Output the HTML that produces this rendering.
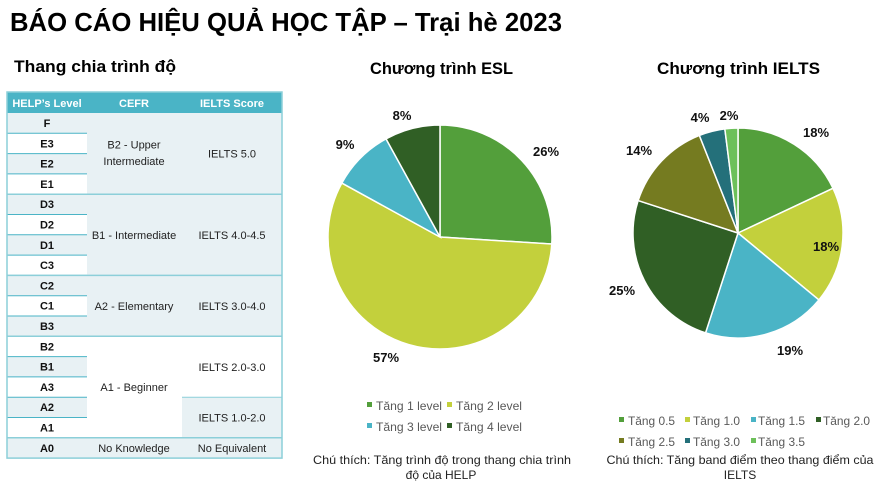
<!DOCTYPE html>
<html><head><meta charset="utf-8"><style>
html,body{margin:0;padding:0;background:#fff;width:891px;height:501px;overflow:hidden}
svg{display:block;font-family:"Liberation Sans","DejaVu Sans",sans-serif}
</style></head><body>
<svg id="s" width="891" height="501" viewBox="0 0 891 501" xmlns="http://www.w3.org/2000/svg">
<text x="10" y="31" font-size="26" font-weight="bold" textLength="552" lengthAdjust="spacingAndGlyphs">BÁO CÁO HIỆU QUẢ HỌC TẬP – Trại hè 2023</text>
<text x="14" y="72" font-size="17" font-weight="bold" textLength="162" lengthAdjust="spacingAndGlyphs">Thang chia trình độ</text>
<text x="370" y="74" font-size="17" font-weight="bold" textLength="143" lengthAdjust="spacingAndGlyphs">Chương trình ESL</text>
<text x="657" y="74" font-size="17" font-weight="bold" textLength="163" lengthAdjust="spacingAndGlyphs">Chương trình IELTS</text>
<g id="tbl"></g>
<g id="pies"></g>
<g font-size="12" fill="#595959">
<rect x="367" y="402" width="5" height="5" fill="#539f3b"/><text x="376" y="410" textLength="66" lengthAdjust="spacingAndGlyphs">Tăng 1 level</text>
<rect x="447" y="402" width="5" height="5" fill="#c3d03c"/><text x="456" y="410" textLength="66" lengthAdjust="spacingAndGlyphs">Tăng 2 level</text>
<rect x="367" y="423" width="5" height="5" fill="#4ab4c6"/><text x="376" y="431" textLength="66" lengthAdjust="spacingAndGlyphs">Tăng 3 level</text>
<rect x="447" y="423" width="5" height="5" fill="#305f25"/><text x="456" y="431" textLength="66" lengthAdjust="spacingAndGlyphs">Tăng 4 level</text>
<rect x="619" y="417" width="5" height="5" fill="#539f3b"/><text x="628" y="425" textLength="47" lengthAdjust="spacingAndGlyphs">Tăng 0.5</text>
<rect x="685" y="417" width="5" height="5" fill="#c3d03c"/><text x="693" y="425" textLength="47" lengthAdjust="spacingAndGlyphs">Tăng 1.0</text>
<rect x="751" y="417" width="5" height="5" fill="#4ab4c6"/><text x="758" y="425" textLength="47" lengthAdjust="spacingAndGlyphs">Tăng 1.5</text>
<rect x="816" y="417" width="5" height="5" fill="#305f25"/><text x="823" y="425" textLength="47" lengthAdjust="spacingAndGlyphs">Tăng 2.0</text>
<rect x="619" y="438" width="5" height="5" fill="#757b20"/><text x="628" y="446" textLength="47" lengthAdjust="spacingAndGlyphs">Tăng 2.5</text>
<rect x="685" y="438" width="5" height="5" fill="#24707a"/><text x="693" y="446" textLength="47" lengthAdjust="spacingAndGlyphs">Tăng 3.0</text>
<rect x="751" y="438" width="5" height="5" fill="#6dc05a"/><text x="758" y="446" textLength="47" lengthAdjust="spacingAndGlyphs">Tăng 3.5</text>
</g>
<g font-size="12" fill="#222" text-anchor="middle">
<text x="442" y="464" textLength="258" lengthAdjust="spacingAndGlyphs">Chú thích: Tăng trình độ trong thang chia trình</text>
<text x="441" y="479">độ của HELP</text>
<text x="740" y="464" textLength="267" lengthAdjust="spacingAndGlyphs">Chú thích: Tăng band điểm theo thang điểm của</text>
<text x="740" y="479">IELTS</text>
</g>
<g font-size="13" font-weight="bold" fill="#111" text-anchor="middle">
<text x="546" y="156">26%</text><text x="386" y="362">57%</text>
<text x="345" y="149">9%</text><text x="402" y="120">8%</text>
<text x="816" y="137">18%</text><text x="826" y="251">18%</text>
<text x="790" y="355">19%</text><text x="622" y="295">25%</text>
<text x="639" y="155">14%</text><text x="700" y="122">4%</text><text x="729" y="120">2%</text>
</g>
</svg>
<script>
var NS="http://www.w3.org/2000/svg";
function el(p,t,a,txt){var e=document.createElementNS(NS,t);for(var k in a)e.setAttribute(k,a[k]);if(txt)e.textContent=txt;p.appendChild(e);return e;}
var pies=document.getElementById('pies');
function pie(cx,cy,r,vals,cols){var tot=vals.reduce((a,b)=>a+b,0),a=-Math.PI/2;
vals.forEach(function(v,i){var b=a+v/tot*2*Math.PI;var x1=cx+r*Math.cos(a),y1=cy+r*Math.sin(a),x2=cx+r*Math.cos(b),y2=cy+r*Math.sin(b);
el(pies,'path',{d:'M'+cx+' '+cy+'L'+x1+' '+y1+'A'+r+' '+r+' 0 '+((b-a)>Math.PI?1:0)+' 1 '+x2+' '+y2+'Z',fill:cols[i],stroke:'#fff','stroke-width':1.5});a=b;});}
pie(440,237,112,[26,57,9,8],['#539f3b','#c3d03c','#4ab4c6','#305f25']);
pie(738,233,105,[18,18,19,25,14,4,2],['#539f3b','#c3d03c','#4ab4c6','#305f25','#757b20','#24707a','#6dc05a']);
var t=document.getElementById('tbl');
var L='#e8f1f4',W='#fff',B='#4ab4c6',y0=113,h=20.3;
el(t,'rect',{x:7,y:92,width:275,height:21,fill:B});
[['HELP’s Level',47],['CEFR',134],['IELTS Score',232]].forEach(function(c){el(t,'text',{x:c[1],y:107,'font-size':11,'font-weight':'bold',fill:'#fff','text-anchor':'middle'},c[0]);});
var lv=['F','E3','E2','E1','D3','D2','D1','C3','C2','C1','B3','B2','B1','A3','A2','A1','A0'];
lv.forEach(function(s,i){el(t,'rect',{x:7,y:y0+i*h,width:80,height:h,fill:i%2?W:L});});
function blk(x,w,r0,n,f){el(t,'rect',{x:x,y:y0+r0*h,width:w,height:n*h,fill:f});}
blk(87,195,0,4,L);blk(87,195,4,4,L);blk(87,195,8,3,L);blk(87,195,11,5,W);blk(182,100,14,2,L);blk(87,195,16,1,L);
for(var i=1;i<17;i++)el(t,'line',{x1:7,x2:87,y1:y0+i*h,y2:y0+i*h,stroke:B,'stroke-width':1});
[4,8,11,16].forEach(function(r){el(t,'line',{x1:7,x2:282,y1:y0+r*h,y2:y0+r*h,stroke:'#8ccfd9','stroke-width':1.5});});
el(t,'line',{x1:182,x2:282,y1:y0+14*h,y2:y0+14*h,stroke:'#8ccfd9','stroke-width':1});
el(t,'rect',{x:7,y:92,width:275,height:17*h+21,fill:'none',stroke:'#8ccfd9','stroke-width':1.5});
lv.forEach(function(s,i){el(t,'text',{x:47,y:y0+i*h+14,'font-size':11,'font-weight':'bold',fill:'#111','text-anchor':'middle'},s);});
var tx=[[134,y0+1.75*h,'B2 - Upper'],[134,y0+2.55*h,'Intermediate'],[232,y0+2*h+4,'IELTS 5.0'],
[134,y0+6*h+4,'B1 - Intermediate'],[232,y0+6*h+4,'IELTS 4.0-4.5'],[134,y0+9.5*h+4,'A2 - Elementary'],[232,y0+9.5*h+4,'IELTS 3.0-4.0'],
[134,y0+13.5*h+4,'A1 - Beginner'],[232,y0+12.5*h+4,'IELTS 2.0-3.0'],[232,y0+15*h+4,'IELTS 1.0-2.0'],
[134,y0+16.5*h+4,'No Knowledge'],[232,y0+16.5*h+4,'No Equivalent']];
tx.forEach(function(c){el(t,'text',{x:c[0],y:c[1],'font-size':11,fill:'#222','text-anchor':'middle'},c[2]);});
</script>
</body></html>
